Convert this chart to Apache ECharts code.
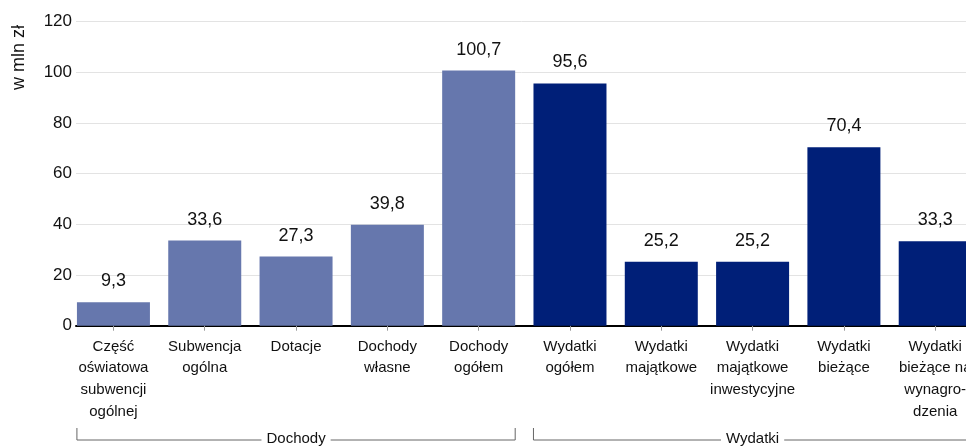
<!DOCTYPE html>
<html>
<head>
<meta charset="utf-8">
<script src="https://cdn.jsdelivr.net/npm/echarts@6/dist/echarts.min.js"></script>
<style>
html,body{margin:0;padding:0;background:#fff;}
#chart{width:966px;height:446px;}
</style>
</head>
<body>
<div id="chart"></div>
<script>
var categories = [
  "Część\noświatowa\nsubwencji\nogólnej",
  "Subwencja\nogólna",
  "Dotacje",
  "Dochody\nwłasne",
  "Dochody\nogółem",
  "Wydatki\nogółem",
  "Wydatki\nmajątkowe",
  "Wydatki\nmajątkowe\ninwestycyjne",
  "Wydatki\nbieżące",
  "Wydatki\nbieżące na\nwynagro-\ndzenia"
];
var values = [9.3, 33.6, 27.3, 39.8, 100.7, 95.6, 25.2, 25.2, 70.4, 33.3];
var groupOf = [0, 0, 0, 0, 0, 1, 1, 1, 1, 1];
var groupNames = ["Dochody", "Wydatki"];
var groupColors = ["#6677ad", "#001f78"];
var yTicks = [0, 20, 40, 60, 80, 100, 120];
var yAxisName = "w mln zł";

var narrow = "'Liberation Sans Narrow', 'Arial Narrow', 'Liberation Sans', Arial, sans-serif";
var normal = "'Liberation Sans', Arial, sans-serif";

var idx = categories.map(function (c, i) { return i; });
var chart = echarts.init(document.getElementById('chart'), null, {renderer: 'canvas'});

var option = {
  animation: false,
  backgroundColor: '#fff',
  grid: {left: 76, top: 21.7, height: 304, width: 914, containLabel: false, outerBoundsMode: 'none'},
  xAxis: {
    type: 'value',
    min: -0.41,
    max: 9.6,
    splitLine: {show: false},
    axisLine: {show: true, onZero: false, lineStyle: {color: '#000', width: 2}},
    axisTick: {show: true, customValues: idx, length: 5, lineStyle: {color: '#999'}},
    axisLabel: {
      show: true,
      customValues: idx,
      margin: 10,
      fontFamily: narrow,
      fontSize: 15,
      lineHeight: 21.7,
      color: '#111',
      align: 'center',
      verticalAlign: 'top',
      formatter: function (v) { return categories[Math.round(v)]; }
    }
  },
  yAxis: {
    type: 'value',
    min: yTicks[0],
    max: yTicks[yTicks.length - 1],
    interval: 20,
    axisLine: {show: false},
    axisTick: {show: false},
    axisLabel: {margin: 4, fontFamily: normal, fontSize: 17, color: '#111'},
    splitLine: {show: true, lineStyle: {color: '#e3e3e3', width: 1}}
  },
  series: [{
    type: 'bar',
    barWidth: 73,
    data: values.map(function (v, i) {
      return {value: [i, v], itemStyle: {color: groupColors[groupOf[i]]}};
    }),
    label: {
      show: true,
      position: 'top',
      distance: 12,
      fontFamily: normal,
      fontSize: 18,
      color: '#111',
      formatter: function (p) { return String(p.value[1]).replace('.', ','); }
    }
  }],
  graphic: []
};
chart.setOption(option);

var graphics = [{
  type: 'text', x: 19, y: 57.5, rotation: Math.PI / 2,
  style: {text: yAxisName, fontFamily: normal, fontSize: 18, fill: '#111', textAlign: 'center', textVerticalAlign: 'middle'}
}];
var lineY = 440, tickTop = 428;
groupNames.forEach(function (g, gi) {
  var members = idx.filter(function (i) { return groupOf[i] === gi; });
  var x0 = chart.convertToPixel({xAxisIndex: 0}, members[0] - 0.4);
  var x1 = chart.convertToPixel({xAxisIndex: 0}, members[members.length - 1] + 0.4);
  graphics.push({
    type: 'polyline',
    shape: {points: [[x0, tickTop], [x0, lineY], [x1, lineY], [x1, tickTop]]},
    style: {stroke: '#666', lineWidth: 1, fill: null}
  });
  graphics.push({
    type: 'text', x: (x0 + x1) / 2, y: lineY - 1,
    style: {text: g, fontFamily: narrow, fontSize: 15, fill: '#111', textAlign: 'center', textVerticalAlign: 'middle',
            backgroundColor: '#fff', padding: [0, 5]}
  });
});
chart.setOption({graphic: graphics});
</script>
</body>
</html>
